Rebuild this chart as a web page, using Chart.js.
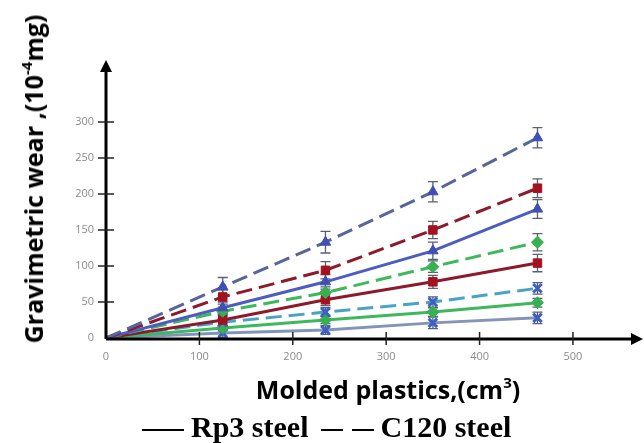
<!DOCTYPE html>
<html>
<head>
<meta charset="utf-8">
<script src="https://cdn.jsdelivr.net/npm/chart.js@4.4.1/dist/chart.umd.min.js"></script>
<style>
  html, body { margin: 0; padding: 0; background: #fff; overflow: hidden; }
  #wrap { position: relative; width: 644px; height: 443px; overflow: hidden; }
  #yTitle {
    position: absolute; left: 33px; top: 179px;
    transform: translate(-50%, -50%) rotate(-90deg);
    white-space: nowrap; font: bold 25px "Open Sans", sans-serif; color: #000;
  }
  #xTitle {
    position: absolute; left: 388px; top: 389px;
    transform: translate(-50%, -50%);
    white-space: nowrap; font: bold 25px "Open Sans", sans-serif; color: #000;
  }
  sup { font-size: 60%; vertical-align: 0.75em; line-height: 0; }
  #legend {
    position: absolute; left: 142px; top: 412px;
    white-space: nowrap; font: bold 30px "Liberation Serif", serif; line-height: 30px; color: #000;
  }
  .solid { display: inline-block; width: 42px; border-top: 2.5px solid #000; vertical-align: middle; margin-right: 7px; }
  .dash { display: inline-block; width: 22px; border-top: 2.5px solid #000; vertical-align: middle; margin-right: 9px; }
  .gap { display: inline-block; width: 13px; }
</style>
</head>
<body>
<div id="wrap">
  <canvas id="chart"></canvas>
  <div id="yTitle">Gravimetric wear ,(10<sup>-4</sup>mg)</div>
  <div id="xTitle">Molded plastics,(cm<sup>3</sup>)</div>
  <div id="legend"><span class="solid"></span>Rp3 steel<span class="gap"></span><span class="dash"></span><span class="dash" style="margin-right:6px"></span>C120 steel</div>
</div>
<script>
'use strict';

// volumes moulés (cm3)
const volumes = [0, 125, 235, 350, 462];

// usure gravimétrique (10^-4 mg)
const c120Tri = [0, 71, 133, 203, 278];
const c120Sq = [0, 57, 94, 150, 208];
const rp3Tri = [0, 42, 78, 121, 179];
const c120Dia = [0, 37, 63, 99, 133];
const rp3Sq = [0, 25, 53, 78, 104];
const c120X = [0, 22, 36, 50, 69];
const rp3Dia = [0, 14, 25, 36, 49];
const rp3X = [0, 7, 11, 21, 28];

// barres d'erreur
const errC120Tri = [0, 13, 15, 14, 14];
const errC120Sq = [0, 10, 12, 12, 13];
const errRp3Tri = [0, 8, 10, 12, 13];
const errC120Dia = [0, 6, 8, 8, 12];
const errRp3Sq = [0, 8, 8, 9, 12];
const errC120X = [0, 5, 6, 7, 8];
const errRp3Dia = [0, 4, 5, 6, 6];
const errRp3X = [0, 6, 6, 8, 8];

const xTicks = [0, 100, 200, 300, 400, 500];
const yTicks = [0, 50, 100, 150, 200, 250, 300];

function points(values) {
    return values.map((v, i) => ({ x: volumes[i], y: v }));
}

function serie(values, err, line, marker, style, dashed) {
    return {
        data: points(values),
        err: err,
        borderColor: line,
        backgroundColor: marker,
        pointBorderColor: marker,
        pointBackgroundColor: marker,
        pointStyle: style,
        pointRadius: [2, 6, 6, 6, 6],
        pointBorderWidth: style === 'crossRot' ? 3 : 1,
        borderWidth: 3,
        borderDash: dashed ? [16, 7] : [],
        tension: 0,
        fill: false
    };
}

// Dessin des axes avec flèches et graduations traversantes
const axesPlugin = {
    id: 'axes',
    afterDatasetsDraw(chart) {
        const c = chart.ctx;
        const a = chart.chartArea;
        const xs = chart.scales.x;
        const ys = chart.scales.y;
        c.save();
        c.strokeStyle = '#000';
        c.fillStyle = '#000';
        c.lineWidth = 3;
        c.beginPath();
        c.moveTo(a.left, a.bottom + 1);
        c.lineTo(a.right - 8, a.bottom + 1);
        c.moveTo(a.left, a.bottom + 1);
        c.lineTo(a.left, a.top + 8);
        c.stroke();
        // flèches
        c.beginPath();
        c.moveTo(a.right, a.bottom + 1);
        c.lineTo(a.right - 12, a.bottom - 5);
        c.lineTo(a.right - 12, a.bottom + 7);
        c.closePath();
        c.fill();
        c.beginPath();
        c.moveTo(a.left, a.top);
        c.lineTo(a.left - 6, a.top + 12);
        c.lineTo(a.left + 6, a.top + 12);
        c.closePath();
        c.fill();
        // graduations
        c.lineWidth = 1.5;
        c.strokeStyle = '#222';
        c.beginPath();
        xTicks.slice(1).forEach(t => {
            const px = xs.getPixelForValue(t);
            c.moveTo(px, a.bottom - 6);
            c.lineTo(px, a.bottom + 7);
        });
        yTicks.slice(1).forEach(t => {
            const py = ys.getPixelForValue(t);
            c.moveTo(a.left - 8, py);
            c.lineTo(a.left + 8, py);
        });
        c.stroke();
        c.restore();
    }
};

// Barres d'erreur
const errPlugin = {
    id: 'errbars',
    beforeDatasetsDraw(chart) {
        const c = chart.ctx;
        const ys = chart.scales.y;
        const xs = chart.scales.x;
        c.save();
        c.strokeStyle = '#5a6070';
        c.lineWidth = 1.3;
        chart.data.datasets.forEach(ds => {
            ds.data.forEach((p, i) => {
                const e = ds.err[i];
                if (!e) return;
                const px = xs.getPixelForValue(p.x);
                const y1 = ys.getPixelForValue(p.y + e);
                const y2 = ys.getPixelForValue(p.y - e);
                c.beginPath();
                c.moveTo(px, y1);
                c.lineTo(px, y2);
                c.moveTo(px - 5, y1);
                c.lineTo(px + 5, y1);
                c.moveTo(px - 5, y2);
                c.lineTo(px + 5, y2);
                c.stroke();
            });
        });
        c.restore();
    }
};

const ctx = document.getElementById('chart');

new Chart(ctx, {
    type: 'line',
    data: {
        datasets: [
            serie(c120Tri, errC120Tri, '#56669a', '#3f4fb3', 'triangle', true),
            serie(c120Sq, errC120Sq, '#8b1a2c', '#a3121f', 'rect', true),
            serie(rp3Tri, errRp3Tri, '#4d5cbf', '#3f4fb3', 'triangle', false),
            serie(c120Dia, errC120Dia, '#3db85c', '#36b050', 'rectRot', true),
            serie(rp3Sq, errRp3Sq, '#8b1a2c', '#a3121f', 'rect', false),
            serie(c120X, errC120X, '#4aa3c4', '#3d5fc4', 'crossRot', true),
            serie(rp3Dia, errRp3Dia, '#3db85c', '#36b050', 'rectRot', false),
            serie(rp3X, errRp3X, '#8494b8', '#3d5fc4', 'crossRot', false)
        ]
    },
    options: {
        responsive: true,
        maintainAspectRatio: false,
        animation: false,
        layout: { autoPadding: false, padding: { left: 0, right: 1, top: 60, bottom: 0 } },
        plugins: {
            legend: { display: false },
            tooltip: { enabled: false }
        },
        scales: {
            x: {
                type: 'linear',
                min: 0,
                max: 575,
                afterBuildTicks: axis => { axis.ticks = xTicks.map(v => ({ value: v })); },
                afterFit: axis => { axis.height = 105; },
                border: { display: false },
                grid: { display: false, drawTicks: false },
                ticks: { color: '#8a8a8a', font: { family: 'Open Sans', size: 11 }, padding: 12, maxRotation: 0 }
            },
            y: {
                type: 'linear',
                min: 0,
                max: 386,
                afterBuildTicks: axis => { axis.ticks = yTicks.map(v => ({ value: v })); },
                afterFit: axis => { axis.width = 106; },
                border: { display: false },
                grid: { display: false, drawTicks: false },
                ticks: { color: '#8a8a8a', font: { family: 'Open Sans', size: 11 }, padding: 12 }
            }
        }
    },
    plugins: [errPlugin, axesPlugin]
});
</script>
</body>
</html>
